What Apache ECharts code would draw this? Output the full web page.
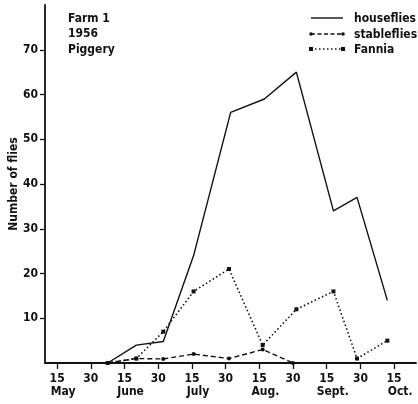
<!DOCTYPE html>
<html>
<head>
<meta charset="utf-8">
<script src="https://cdn.jsdelivr.net/npm/echarts@6/dist/echarts.min.js"></script>
<style>
  html, body { margin: 0; padding: 0; background: #fff; }
  #chart { width: 418px; height: 404px; }
</style>
</head>
<body>
<div id="chart"></div>
<script>
// Sampling dates on a half-month scale: 0 = 15 May, 1 = 30 May, 2 = 15 June, ...
const houseDates = [1.5, 2.35, 3.15, 4.05, 5.15, 6.15, 7.1, 8.2, 8.9, 9.8];
const houseCounts = [0, 4, 4.8, 24, 56, 59, 65, 34, 37, 14];

const stableDates = [1.5, 2.35, 3.15, 4.05, 5.1, 6.1, 7.0];
const stableCounts = [0, 1, 0.9, 2, 1, 3, 0];

const fanniaDates = [1.5, 2.35, 3.15, 4.05, 5.1, 6.1, 7.1, 8.2, 8.9, 9.8];
const fanniaCounts = [0, 1, 7, 16, 21, 4, 12, 16, 1, 5];

// Axis ticks and labels
const dayTicks = [0, 1, 2, 3, 4, 5, 6, 7, 8, 9, 10];
const dayLabels = ['15', '30', '15', '30', '15', '30', '15', '30', '15', '30', '15'];
const monthPositions = [0.18, 2.18, 4.18, 6.18, 8.18, 10.18];
const monthLabels = ['May', 'June', 'July', 'Aug.', 'Sept.', 'Oct.'];
const countTicks = [10, 20, 30, 40, 50, 60, 70];

const seriesNames = ['houseflies', 'stableflies', 'Fannia'];

const pair = (xs, ys) => xs.map((x, i) => [x, ys[i]]);

const FONT = '"DejaVu Sans Condensed", "DejaVu Sans", sans-serif';
const WEIGHT = 'bold';
const INK = '#111';

// Hand-drawn key: a short line sample per series followed by its name
function keyGraphics() {
  const x0 = 311, x1 = 343, tx = 354;
  const rows = [18, 34, 49];
  const els = [];
  // houseflies: solid
  els.push({ type: 'line', shape: { x1: x0, y1: rows[0], x2: x1, y2: rows[0] },
             style: { stroke: INK, lineWidth: 1.4 } });
  // stableflies: dashed with dots at both ends
  els.push({ type: 'line', shape: { x1: x0, y1: rows[1], x2: x1, y2: rows[1] },
             style: { stroke: INK, lineWidth: 1.4, lineDash: [4, 2.5] } });
  [x0, x1].forEach((x) => els.push({ type: 'circle', shape: { cx: x, cy: rows[1], r: 1.8 },
             style: { fill: INK } }));
  // Fannia: dotted with markers at both ends
  els.push({ type: 'line', shape: { x1: x0, y1: rows[2], x2: x1, y2: rows[2] },
             style: { stroke: INK, lineWidth: 1.6, lineDash: [1.5, 2.5] } });
  [x0, x1].forEach((x) => els.push({ type: 'rect', shape: { x: x - 2, y: rows[2] - 2, width: 4, height: 4 },
             style: { fill: INK } }));
  seriesNames.forEach((name, i) => els.push({
    type: 'text', x: tx, y: rows[i] + 1,
    style: { text: name, fill: INK, font: WEIGHT + ' 12px ' + FONT, verticalAlign: 'middle' }
  }));
  return els;
}

const chart = echarts.init(document.getElementById('chart'), null, { renderer: 'canvas' });

chart.setOption({
  animation: false,
  backgroundColor: '#fff',
  textStyle: { fontFamily: FONT, color: INK },
  title: {
    text: 'Farm 1\n1956\nPiggery',
    left: 68,
    top: 11,
    padding: 0,
    textStyle: { fontFamily: FONT, fontSize: 12, fontWeight: WEIGHT, color: INK, lineHeight: 15.5 }
  },
  graphic: keyGraphics(),
  grid: { left: 45, right: 2, top: 5, bottom: 41, containLabel: false, outerBoundsMode: 'none' },
  xAxis: [
    {
      type: 'value',
      min: -0.36,
      max: 10.65,
      splitLine: { show: false },
      axisLine: { onZero: false, lineStyle: { color: INK, width: 1.8 } },
      axisTick: { show: true, customValues: dayTicks, length: 6, lineStyle: { color: INK, width: 1.3 } },
      axisLabel: {
        customValues: dayTicks,
        margin: 10,
        fontFamily: FONT,
        fontWeight: WEIGHT,
        fontSize: 12,
        color: INK,
        formatter: (v) => dayLabels[Math.round(v)]
      }
    },
    {
      type: 'value',
      min: -0.36,
      max: 10.65,
      position: 'bottom',
      splitLine: { show: false },
      axisLine: { show: false, onZero: false },
      axisTick: { show: false },
      axisLabel: {
        customValues: monthPositions,
        margin: 23,
        fontFamily: FONT,
        fontWeight: WEIGHT,
        fontSize: 12,
        color: INK,
        formatter: (v) => monthLabels[Math.round((v - 0.18) / 2)]
      }
    }
  ],
  yAxis: {
    type: 'value',
    min: 0,
    max: 80,
    name: 'Number of flies',
    nameLocation: 'middle',
    nameGap: 25,
    nameMoveOverlap: false,
    nameTextStyle: { fontFamily: FONT, fontWeight: WEIGHT, fontSize: 12, color: INK },
    splitLine: { show: false },
    axisLine: { onZero: false, lineStyle: { color: INK, width: 1.8 } },
    axisTick: { show: true, customValues: countTicks, length: 5, lineStyle: { color: INK, width: 1.3 } },
    axisLabel: {
      customValues: countTicks,
      margin: 7,
      fontFamily: FONT,
      fontWeight: WEIGHT,
      fontSize: 12,
      color: INK
    }
  },
  series: [
    {
      name: seriesNames[0],
      type: 'line',
      data: pair(houseDates, houseCounts),
      symbol: 'none',
      lineStyle: { color: INK, width: 1.4, type: 'solid' },
      itemStyle: { color: INK }
    },
    {
      name: seriesNames[1],
      type: 'line',
      data: pair(stableDates, stableCounts),
      symbol: 'circle',
      symbolSize: 4,
      lineStyle: { color: INK, width: 1.4, type: [5, 3] },
      itemStyle: { color: INK }
    },
    {
      name: seriesNames[2],
      type: 'line',
      data: pair(fanniaDates, fanniaCounts),
      symbol: 'rect',
      symbolSize: 4,
      lineStyle: { color: INK, width: 1.6, type: [1.5, 2.5] },
      itemStyle: { color: INK }
    }
  ]
});
</script>
</body>
</html>
